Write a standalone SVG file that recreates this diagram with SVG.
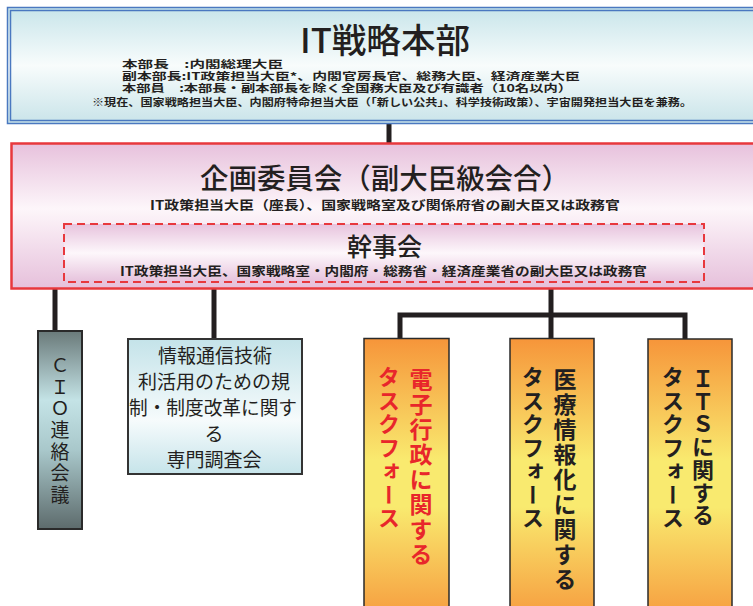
<svg xmlns="http://www.w3.org/2000/svg" width="753" height="606" viewBox="0 0 753 606">
<defs>
<linearGradient id="gBlue" x1="0" y1="0" x2="0" y2="1">
<stop offset="0" stop-color="#c8e5ea"/><stop offset="0.5" stop-color="#f8fcfc"/><stop offset="1" stop-color="#c9e4e9"/>
</linearGradient>
<linearGradient id="gPink" x1="0" y1="0" x2="0" y2="1">
<stop offset="0" stop-color="#e7c1dc"/><stop offset="0.45" stop-color="#fdf6fa"/><stop offset="1" stop-color="#e6c0db"/>
</linearGradient>
<linearGradient id="gPink2" x1="0" y1="0" x2="0" y2="1">
<stop offset="0" stop-color="#e7c3dd"/><stop offset="0.5" stop-color="#fdf7fb"/><stop offset="1" stop-color="#e6c2dc"/>
</linearGradient>
<linearGradient id="gCio" x1="0" y1="0" x2="0" y2="1">
<stop offset="0" stop-color="#6a7a7a"/><stop offset="0.35" stop-color="#c4e3e6"/><stop offset="0.6" stop-color="#a9c8cb"/><stop offset="1" stop-color="#5d6b6c"/>
</linearGradient>
<linearGradient id="gInfo" x1="0" y1="0" x2="0" y2="1">
<stop offset="0" stop-color="#c4e3e9"/><stop offset="0.6" stop-color="#f6fbfc"/><stop offset="1" stop-color="#c6e4ea"/>
</linearGradient>
<linearGradient id="gOrange" x1="0" y1="0" x2="0" y2="1">
<stop offset="0" stop-color="#f6953a"/><stop offset="0.42" stop-color="#f9ea6f"/><stop offset="0.58" stop-color="#f9ea6f"/><stop offset="1" stop-color="#f6953a"/>
</linearGradient>
</defs>
<style>
text{font-family:"Noto Sans CJK JP","Noto Sans",sans-serif;fill:#231f20}
.sm{font-size:12.5px;font-weight:700}
.xs{font-size:10.5px;font-weight:700}
.big{font-weight:500}
.vt{writing-mode:vertical-rl;text-orientation:upright}
.ob{stroke:#2a2a2a;stroke-width:1.5}
.conn{stroke:#231f20;stroke-width:5;fill:none}
</style>
<g id="connectors">
<line class="conn" x1="389" y1="124" x2="389" y2="144"/>
<line class="conn" x1="55" y1="289" x2="55" y2="331"/>
<line class="conn" x1="214" y1="289" x2="214" y2="339"/>
<line class="conn" x1="551" y1="289" x2="551" y2="339"/>
<polyline class="conn" points="400,339 400,315 685,315 685,339"/>
</g>
<g id="honbu">
<rect x="7.5" y="7.5" width="760" height="116" fill="url(#gBlue)" stroke="#4a78c0" stroke-width="1.5"/>
<rect x="10.5" y="10.5" width="760" height="110" fill="none" stroke="#4a78c0" stroke-width="1.5"/>
<text class="big" x="300" y="53" font-size="34" textLength="170" lengthAdjust="spacingAndGlyphs">IT戦略本部</text>
<text class="xs" lengthAdjust="spacingAndGlyphs"><tspan x="122" y="67.5" textLength="161" lengthAdjust="spacingAndGlyphs">本部長　:内閣総理大臣</tspan><tspan x="122" y="79.5" textLength="458" lengthAdjust="spacingAndGlyphs">副本部長:IT政策担当大臣*、内閣官房長官、総務大臣、経済産業大臣</tspan><tspan x="122" y="91.5" textLength="450" lengthAdjust="spacingAndGlyphs">本部員　:本部長・副本部長を除く全国務大臣及び有識者（10名以内）</tspan><tspan x="92" y="106" font-size="10" textLength="600" lengthAdjust="spacingAndGlyphs">※現在、国家戦略担当大臣、内閣府特命担当大臣（「新しい公共」、科学技術政策）、宇宙開発担当大臣を兼務。</tspan></text>
</g>
<g id="kikaku">
<rect x="11.5" y="143.5" width="760" height="145" fill="url(#gPink)" stroke="#e8383d" stroke-width="2.5"/>
<text class="big" x="200" y="189" font-size="28" textLength="370" lengthAdjust="spacingAndGlyphs">企画委員会（副大臣級会合）</text>
<text class="sm" x="150" y="210" textLength="470" lengthAdjust="spacingAndGlyphs">IT政策担当大臣（座長）、国家戦略室及び関係府省の副大臣又は政務官</text>
</g>
<g id="kanji">
<rect x="64" y="224" width="640" height="58" fill="url(#gPink2)" stroke="#e8383d" stroke-width="2" stroke-dasharray="8,5"/>
<text class="big" x="347" y="256" font-size="25" textLength="75" lengthAdjust="spacingAndGlyphs">幹事会</text>
<text class="sm" x="120" y="276" textLength="527" lengthAdjust="spacingAndGlyphs">IT政策担当大臣、国家戦略室・内閣府・総務省・経済産業省の副大臣又は政務官</text>
</g>
<g id="cio">
<rect x="38" y="331" width="44" height="198" fill="url(#gCio)" stroke="#2a2a2a" stroke-width="2"/>
<text class="vt" x="60" y="356" font-size="19" textLength="148">ＣＩＯ連絡会議</text>
</g>
<g id="senmon">
<rect x="128" y="339" width="174" height="135" fill="url(#gInfo)" stroke="#333" stroke-width="2"/>
<g font-size="19" text-anchor="middle">
<text x="215" y="363">情報通信技術</text>
<text x="214" y="389">利活用のための規</text>
<text x="213" y="415" textLength="168" lengthAdjust="spacingAndGlyphs">制・制度改革に関す</text>
<text x="214" y="441">る</text>
<text x="214" y="467">専門調査会</text>
</g>
</g>
<g id="tf-denshi">
<rect class="ob" x="364" y="338.5" width="85" height="290" fill="url(#gOrange)"/>
<text class="vt" x="421" y="368" font-size="23" font-weight="700" style="fill:#e8262b" textLength="198">電子行政に関する</text>
<text class="vt" x="389" y="366" font-size="22" font-weight="700" style="fill:#e8262b" textLength="163">タスクフォース</text>
</g>
<g id="tf-iryo">
<rect class="ob" x="510" y="338.5" width="84" height="290" fill="url(#gOrange)"/>
<text class="vt" x="565" y="368" font-size="23" font-weight="700" textLength="223">医療情報化に関する</text>
<text class="vt" x="533" y="366" font-size="22" font-weight="700" textLength="163">タスクフォース</text>
</g>
<g id="tf-its">
<rect class="ob" x="648" y="339" width="84" height="290" fill="url(#gOrange)"/>
<text class="vt" x="703" y="368" font-size="22" font-weight="700" textLength="158">ＩＴＳに関する</text>
<text class="vt" x="673" y="366" font-size="22" font-weight="700" textLength="163">タスクフォース</text>
</g>
</svg>
